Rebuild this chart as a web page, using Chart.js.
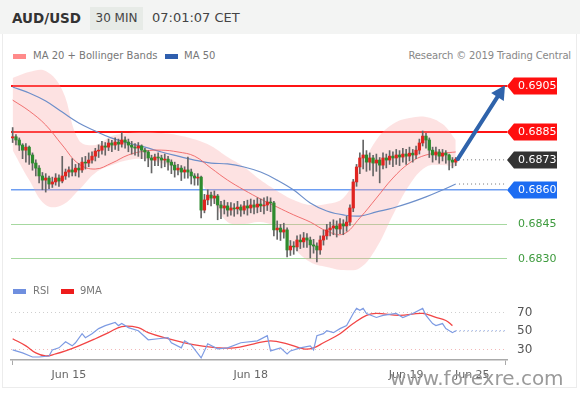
<!DOCTYPE html>
<html>
<head>
<meta charset="utf-8">
<script src="https://cdn.jsdelivr.net/npm/chart.js@4.4.1/dist/chart.umd.min.js"></script>
<style>
  body { margin: 0; background: #fff; font-family: "DejaVu Sans", sans-serif; }
  #wrap { position: relative; width: 580px; height: 393px; overflow: hidden; background: #fff; }
  .abs { position: absolute; white-space: nowrap; }
  .header { left: 0; top: 0; width: 580px; height: 34px; background: #f3f4f3; }
  .pair { left: 12px; top: 10px; font-size: 13.5px; font-weight: bold; color: #333; }
  .tf { left: 90px; top: 7px; width: 53px; height: 23px; line-height: 23px; text-align: center; background: #e7ebe7; font-size: 12px; color: #444; }
  .time { left: 152px; top: 10px; font-size: 13px; color: #444; }
  .frame { left: 2px; top: 34px; width: 575px; height: 354px; border-left: 1px solid #ececec; border-right: 1px solid #ececec; border-bottom: 1px solid #ececec; box-sizing: border-box; }
  .lg { font-size: 10px; color: #777; }
  .sw { height: 5px; width: 13px; }
  .wm { left: 390px; top: 366px; font-size: 20px; color: #9a9a9a; }
  canvas { position: absolute; left: 0; }
</style>
</head>
<body>
<div id="wrap">
  <div class="abs header"></div>
  <div class="abs frame"></div>
  <div class="abs pair">AUD/USD</div>
  <div class="abs tf">30 MIN</div>
  <div class="abs time">07:01:07 CET</div>

  <div class="abs sw" style="left:13px;top:54px;background:#ff8a8a"></div>
  <div class="abs lg" style="left:33px;top:50px">MA 20 + Bollinger Bands</div>
  <div class="abs sw" style="left:165px;top:54px;background:#2f5fae"></div>
  <div class="abs lg" style="left:184px;top:50px">MA 50</div>
  <div class="abs lg" style="right:9px;top:50px;color:#888;letter-spacing:-0.15px">Research © 2019 Trading Central</div>

  <canvas id="priceChart" width="580" height="210" style="top:66px"></canvas>
  <canvas id="rsiChart" width="580" height="117" style="top:276px"></canvas>

  <div class="abs sw" style="left:13px;top:289px;background:#6f8fdf"></div>
  <div class="abs lg" style="left:33px;top:285px">RSI</div>
  <div class="abs sw" style="left:61px;top:289px;background:#ee1c1c"></div>
  <div class="abs lg" style="left:80px;top:285px">9MA</div>

  <div class="abs wm">www.forexre.com</div>
</div>

<script>
// === Data: 30 min candles ===
const opens = [
  0.68825,0.68830,0.68816,0.68794,0.68772,0.68785,0.68751,0.68716,0.68694,0.68660,
  0.68642,0.68651,0.68625,0.68634,0.68651,0.68638,0.68660,0.68677,0.68686,0.68677,
  0.68694,0.68686,0.68720,0.68716,0.68729,0.68746,0.68768,0.68772,0.68790,0.68785,
  0.68803,0.68794,0.68807,0.68798,0.68816,0.68807,0.68794,0.68785,0.68781,0.68790,
  0.68772,0.68764,0.68738,0.68729,0.68742,0.68738,0.68729,0.68733,0.68720,0.68707,
  0.68686,0.68694,0.68677,0.68686,0.68677,0.68660,0.68651,0.68655,0.68512,0.68556,
  0.68577,0.68564,0.68573,0.68534,0.68521,0.68530,0.68512,0.68521,0.68517,0.68525,
  0.68512,0.68530,0.68521,0.68534,0.68525,0.68538,0.68530,0.68534,0.68547,0.68543,
  0.68426,0.68434,0.68417,0.68426,0.68339,0.68356,0.68352,0.68382,0.68374,0.68391,
  0.68382,0.68361,0.68356,0.68339,0.68382,0.68400,0.68426,0.68434,0.68443,0.68430,
  0.68452,0.68443,0.68460,0.68521,0.68634,0.68699,0.68738,0.68751,0.68720,0.68738,
  0.68716,0.68729,0.68707,0.68738,0.68729,0.68746,0.68738,0.68751,0.68742,0.68755,
  0.68746,0.68759,0.68751,0.68772,0.68803,0.68833,0.68816,0.68772,0.68751,0.68764,
  0.68746,0.68759,0.68751,0.68729,0.68720
];
const closes = [
  0.68830,0.68816,0.68794,0.68772,0.68785,0.68751,0.68716,0.68694,0.68660,0.68642,
  0.68651,0.68625,0.68634,0.68651,0.68638,0.68660,0.68677,0.68686,0.68677,0.68694,
  0.68686,0.68720,0.68716,0.68729,0.68746,0.68768,0.68772,0.68790,0.68785,0.68803,
  0.68794,0.68807,0.68798,0.68816,0.68807,0.68794,0.68785,0.68781,0.68790,0.68772,
  0.68764,0.68738,0.68729,0.68742,0.68738,0.68729,0.68733,0.68720,0.68707,0.68686,
  0.68694,0.68677,0.68686,0.68677,0.68660,0.68651,0.68655,0.68512,0.68556,0.68577,
  0.68564,0.68573,0.68534,0.68521,0.68530,0.68512,0.68521,0.68517,0.68525,0.68512,
  0.68530,0.68521,0.68534,0.68525,0.68538,0.68530,0.68534,0.68547,0.68543,0.68426,
  0.68434,0.68417,0.68426,0.68339,0.68356,0.68352,0.68382,0.68374,0.68391,0.68382,
  0.68361,0.68356,0.68339,0.68382,0.68400,0.68426,0.68434,0.68443,0.68430,0.68452,
  0.68443,0.68460,0.68521,0.68634,0.68699,0.68738,0.68751,0.68720,0.68738,0.68716,
  0.68729,0.68707,0.68738,0.68729,0.68746,0.68738,0.68751,0.68742,0.68755,0.68746,
  0.68759,0.68751,0.68772,0.68803,0.68833,0.68816,0.68772,0.68751,0.68764,0.68746,
  0.68759,0.68751,0.68729,0.68720,0.68733
];
const highs = [
  0.68870,0.68840,0.68825,0.68800,0.68800,0.68790,0.68760,0.68730,0.68705,0.68675,
  0.68670,0.68660,0.68655,0.68670,0.68665,0.68745,0.68690,0.68700,0.68735,0.68710,
  0.68715,0.68740,0.68745,0.68760,0.68765,0.68780,0.68795,0.68810,0.68805,0.68820,
  0.68815,0.68825,0.68820,0.68848,0.68830,0.68820,0.68810,0.68800,0.68805,0.68795,
  0.68780,0.68770,0.68750,0.68755,0.68760,0.68750,0.68755,0.68745,0.68730,0.68720,
  0.68710,0.68705,0.68700,0.68742,0.68690,0.68670,0.68670,0.68660,0.68580,0.68600,
  0.68590,0.68595,0.68580,0.68550,0.68555,0.68545,0.68545,0.68540,0.68550,0.68535,
  0.68550,0.68555,0.68560,0.68555,0.68565,0.68560,0.68565,0.68570,0.68565,0.68550,
  0.68465,0.68450,0.68455,0.68435,0.68380,0.68375,0.68400,0.68405,0.68415,0.68410,
  0.68395,0.68385,0.68370,0.68400,0.68425,0.68450,0.68460,0.68470,0.68465,0.68475,
  0.68470,0.68485,0.68535,0.68645,0.68710,0.68760,0.68816,0.68770,0.68760,0.68750,
  0.68755,0.68740,0.68760,0.68755,0.68770,0.68765,0.68775,0.68770,0.68780,0.68775,
  0.68785,0.68775,0.68790,0.68820,0.68855,0.68845,0.68825,0.68785,0.68785,0.68775,
  0.68775,0.68770,0.68755,0.68740,0.68740
];
const lows = [
  0.68805,0.68795,0.68770,0.68735,0.68720,0.68710,0.68685,0.68660,0.68630,0.68600,
  0.68590,0.68605,0.68610,0.68620,0.68615,0.68630,0.68645,0.68655,0.68660,0.68660,
  0.68655,0.68675,0.68690,0.68700,0.68715,0.68725,0.68740,0.68755,0.68750,0.68770,
  0.68765,0.68775,0.68770,0.68785,0.68780,0.68765,0.68755,0.68750,0.68745,0.68735,
  0.68725,0.68700,0.68673,0.68705,0.68705,0.68695,0.68700,0.68685,0.68670,0.68655,
  0.68665,0.68640,0.68650,0.68650,0.68625,0.68620,0.68620,0.68478,0.68500,0.68535,
  0.68530,0.68540,0.68470,0.68475,0.68495,0.68485,0.68490,0.68485,0.68495,0.68485,
  0.68495,0.68490,0.68500,0.68495,0.68500,0.68505,0.68495,0.68510,0.68505,0.68400,
  0.68385,0.68380,0.68390,0.68309,0.68315,0.68320,0.68335,0.68345,0.68350,0.68350,
  0.68304,0.68325,0.68287,0.68320,0.68360,0.68385,0.68400,0.68405,0.68395,0.68410,
  0.68405,0.68420,0.68445,0.68505,0.68615,0.68670,0.68690,0.68680,0.68685,0.68660,
  0.68680,0.68630,0.68690,0.68695,0.68710,0.68700,0.68710,0.68705,0.68720,0.68710,
  0.68725,0.68720,0.68735,0.68755,0.68790,0.68780,0.68740,0.68720,0.68730,0.68715,
  0.68725,0.68715,0.68686,0.68695,0.68705
];

// === Indicators (every 5th candle) ===
const indIdx = [0,5,10,15,20,25,30,35,40,45,50,55,60,65,70,75,80,85,90,95,100,105,110,115,120,125,130,134];
const ma20 = [0.68989,0.68942,0.68881,0.68794,0.68712,0.68690,0.68716,0.68751,0.68768,0.68772,
  0.68764,0.68746,0.68694,0.68642,0.68599,0.68560,0.68525,0.68491,0.68460,0.68421,
  0.68408,0.68478,0.68564,0.68651,0.68716,0.68751,0.68759,0.68764];
const ma50 = [0.69046,0.69020,0.68985,0.68937,0.68890,0.68855,0.68824,0.68803,0.68785,0.68764,
  0.68746,0.68729,0.68716,0.68712,0.68699,0.68677,0.68642,0.68599,0.68543,0.68508,
  0.68491,0.68486,0.68504,0.68521,0.68543,0.68569,0.68599,0.68625];
const bbUpper = [0.69085,0.69111,0.69115,0.69033,0.68816,0.68794,0.68833,0.68846,0.68851,0.68846,
  0.68837,0.68819,0.68790,0.68742,0.68699,0.68642,0.68595,0.68556,0.68534,0.68538,
  0.68564,0.68686,0.68816,0.68885,0.68911,0.68916,0.68885,0.68816];
const bbLower = [0.68772,0.68642,0.68534,0.68534,0.68599,0.68673,0.68707,0.68729,0.68733,0.68716,
  0.68694,0.68664,0.68564,0.68460,0.68452,0.68460,0.68434,0.68348,0.68287,0.68265,
  0.68252,0.68261,0.68348,0.68491,0.68621,0.68699,0.68707,0.68699];

// === Levels ===
const levelValues = [0.6905, 0.6885, 0.6873, 0.6860, 0.6845, 0.6830];
const tagFill = ["#ff0f0f", "#ff0f0f", "#333333", "#1c6cf2", null, null];
const tagText = ["#fff", "#fff", "#fff", "#fff", "#3d9a3d", "#3d9a3d"];
const gridLevels = [0.6905, 0.6885, 0.6860, 0.6845, 0.6830];
const gridColors = ["#ff1414", "#ff1414", "#6e9ef2", "#a6d8a0", "#a6d8a0"];
const gridWidths = [2, 2, 1.6, 1, 1];
const lastPrice = 0.6873;
const ma50Last = 0.68625;
const arrowFrom = [134.6, 0.68733];
const arrowTo = [148.9, 0.69054];

// === RSI ===
const rsiIdx = [0,1,3,6,8,11,12,14,16,18,19,21,22,24,26,28,31,32,33,35,38,41,44,47,48,51,52,54,57,59,
  62,65,69,74,77,78,81,83,84,87,90,91,92,94,95,97,99,101,103,104,105,106,107,110,112,116,118,121,124,125,
  127,128,130,131,133,134];
const rsiVals = [30.0,28.9,26.8,22.4,22.4,23.5,30.0,32.2,38.6,34.3,37.6,47.3,43.0,47.3,52.7,55.9,59.2,55.9,58.1,53.8,
  50.5,40.8,41.9,43.0,37.6,32.2,39.7,35.4,21.4,36.5,31.1,32.2,37.6,39.7,45.1,28.9,32.2,25.7,28.9,32.2,
  34.3,30.0,45.1,47.3,50.5,48.4,52.7,55.9,68.9,74.3,72.2,74.3,68.9,64.6,66.8,68.9,64.6,68.9,74.3,66.8,
  58.1,55.9,58.1,52.7,48.4,50.5];
const ma9Idx = [0,4,7,10,13,16,20,25,29,33,38,41,47,52,57,62,67,73,78,83,88,91,94,99,103,107,110,117,124,128,131,133];
const ma9Vals = [41.9,34.3,26.8,23.5,25.7,28.9,34.3,41.9,48.4,54.9,53.8,48.4,41.9,37.6,34.3,32.2,32.2,36.5,39.7,36.5,
  31.1,32.2,37.6,47.3,58.1,66.8,68.9,66.8,68.9,64.6,61.4,55.9];
const rsiTicks = [30, 50, 70];
const rsiGridColors = ["#f2b8b8", "#cfcfcf", "#cfcfcf"];
const rsiLast = 50.5;

// === X axis ===
const slotCount = 150;
const slots = Array.from({ length: slotCount }, (_, i) => i);
const tickIdx = [17, 72, 119, 139];
const tickText = ["Jun 15", "Jun 18", "Jun 19", "Jun 25"];

Chart.defaults.font.family = '"DejaVu Sans", sans-serif';

const pts = (idx, vals) => idx.map((x, i) => ({ x, y: vals[i] }));

// === Plugin: label tags on the right ===
const tagPlugin = {
  id: "levelTags",
  afterDraw(chart) {
    const { ctx, chartArea, scales: { y } } = chart;
    ctx.save();
    ctx.font = '11px "DejaVu Sans"';
    ctx.textBaseline = "middle";
    levelValues.forEach((v, i) => {
      const py = Math.round(y.getPixelForValue(v));
      const x0 = chartArea.right;
      if (tagFill[i]) {
        ctx.fillStyle = tagFill[i];
        ctx.beginPath();
        ctx.moveTo(x0, py);
        ctx.lineTo(x0 + 7, py - 8.5);
        ctx.lineTo(x0 + 50, py - 8.5);
        ctx.lineTo(x0 + 50, py + 8.5);
        ctx.lineTo(x0 + 7, py + 8.5);
        ctx.closePath();
        ctx.fill();
      }
      ctx.fillStyle = tagText[i];
      ctx.fillText(v.toFixed(4), x0 + 11, py + 0.5);
    });
    ctx.restore();
  }
};

// === Plugin: forecast arrow ===
const arrowPlugin = {
  id: "arrow",
  afterDatasetsDraw(chart) {
    const { ctx, scales: { x, y } } = chart;
    const x1 = x.getPixelForValue(arrowFrom[0]), y1 = y.getPixelForValue(arrowFrom[1]);
    const x2 = x.getPixelForValue(arrowTo[0]), y2 = y.getPixelForValue(arrowTo[1]);
    const a = Math.atan2(y2 - y1, x2 - x1);
    const head = 14, half = 7.5;
    const bx = x2 - head * Math.cos(a), by = y2 - head * Math.sin(a);
    ctx.save();
    ctx.strokeStyle = ctx.fillStyle = "#2f63ab";
    ctx.lineWidth = 4;
    ctx.lineCap = "round";
    ctx.beginPath();
    ctx.moveTo(x1, y1);
    ctx.lineTo(bx, by);
    ctx.stroke();
    ctx.beginPath();
    ctx.moveTo(x2, y2);
    ctx.lineTo(bx + half * Math.sin(a), by - half * Math.cos(a));
    ctx.lineTo(bx - half * Math.sin(a), by + half * Math.cos(a));
    ctx.closePath();
    ctx.fill();
    ctx.restore();
  }
};

// === Price chart ===
new Chart(document.getElementById("priceChart"), {
  type: "bar",
  data: {
    labels: slots,
    datasets: [
      {
        data: opens.map((o, i) => [o, closes[i]]),
        backgroundColor: opens.map((o, i) => closes[i] >= o ? "#e02420" : "#2e8b2e"),
        barThickness: 2.6, grouped: false, order: 0
      },
      {
        data: lows.map((l, i) => [l, highs[i]]),
        backgroundColor: "#666", barThickness: 1, grouped: false, order: 1
      },
      { type: "line", data: pts(indIdx, ma20), borderColor: "rgba(240,100,100,0.9)", borderWidth: 1, pointRadius: 0, tension: 0.4, order: 2 },
      { type: "line", data: pts(indIdx, ma50), borderColor: "#6d8fca", borderWidth: 1.2, pointRadius: 0, tension: 0.4, order: 2 },
      { type: "line", data: pts(indIdx, bbUpper), borderWidth: 0, pointRadius: 0, tension: 0.4, fill: false, order: 5 },
      { type: "line", data: pts(indIdx, bbLower), borderWidth: 0, pointRadius: 0, tension: 0.4, fill: "-1", backgroundColor: "rgba(250,165,165,0.32)", order: 5 },
      { type: "line", data: [{ x: 135, y: lastPrice }, { x: 149, y: lastPrice }], borderColor: "#777", borderWidth: 1, borderDash: [1, 3], pointRadius: 0, order: 3 },
      { type: "line", data: [{ x: 135, y: ma50Last }, { x: 149, y: ma50Last }], borderColor: "#777", borderWidth: 1, borderDash: [1, 3], pointRadius: 0, order: 3 }
    ]
  },
  options: {
    responsive: false,
    animation: false,
    devicePixelRatio: 1,
    layout: { padding: { left: 11, right: 0, top: 0, bottom: 0 } },
    plugins: { legend: { display: false }, tooltip: { enabled: false }, filler: { drawTime: "beforeDatasetsDraw" } },
    scales: {
      x: { display: false, offset: true },
      y: {
        position: "right", min: 0.68226, max: 0.69137,
        afterFit: s => { s.width = 73; },
        afterBuildTicks: s => { s.ticks = gridLevels.map(v => ({ value: v })); },
        ticks: { display: false },
        grid: {
          drawTicks: false,
          color: c => gridColors[gridLevels.indexOf(c.tick.value)],
          lineWidth: c => gridWidths[gridLevels.indexOf(c.tick.value)]
        },
        border: { display: false }
      }
    }
  },
  plugins: [tagPlugin, arrowPlugin]
});

// === RSI chart ===
new Chart(document.getElementById("rsiChart"), {
  type: "line",
  data: {
    labels: slots,
    datasets: [
      { data: pts(rsiIdx, rsiVals), borderColor: "#7d9be3", borderWidth: 1.2, pointRadius: 0, tension: 0 },
      { data: pts(ma9Idx, ma9Vals), borderColor: "#f24545", borderWidth: 1.3, pointRadius: 0, tension: 0.4 },
      { data: [{ x: 134, y: rsiLast }, { x: 149, y: rsiLast }], borderColor: "#7d9be3", borderWidth: 1, borderDash: [1, 3], pointRadius: 0 }
    ]
  },
  options: {
    responsive: false,
    animation: false,
    devicePixelRatio: 1,
    layout: { padding: { left: 11, right: 0, top: 0, bottom: 0 } },
    plugins: { legend: { display: false }, tooltip: { enabled: false } },
    scales: {
      x: {
        offset: true,
        afterFit: s => { s.height = 33; },
        grid: {
          drawOnChartArea: false, tickLength: 5,
          color: c => (c.index === 0 || c.index === slotCount - 1) ? "#aaa" : "rgba(0,0,0,0)"
        },
        border: { color: "#aaa", width: 1.5 },
        ticks: {
          autoSkip: false, maxRotation: 0, padding: 4, color: "#666", font: { size: 11 },
          callback: (v, i) => { const k = tickIdx.indexOf(i); return k >= 0 ? tickText[k] : ""; }
        }
      },
      y: {
        position: "right", min: 19.2, max: 108.9,
        afterFit: s => { s.width = 73; s.paddingTop = 0; s.paddingBottom = 0; },
        afterBuildTicks: s => { s.ticks = rsiTicks.map(v => ({ value: v })); },
        grid: { drawTicks: false, color: c => rsiGridColors[rsiTicks.indexOf(c.tick.value)] },
        border: { display: false, dash: [1, 3] },
        ticks: { padding: 10, color: "#555", font: { size: 12 } }
      }
    }
  }
});
</script>
</body>
</html>
